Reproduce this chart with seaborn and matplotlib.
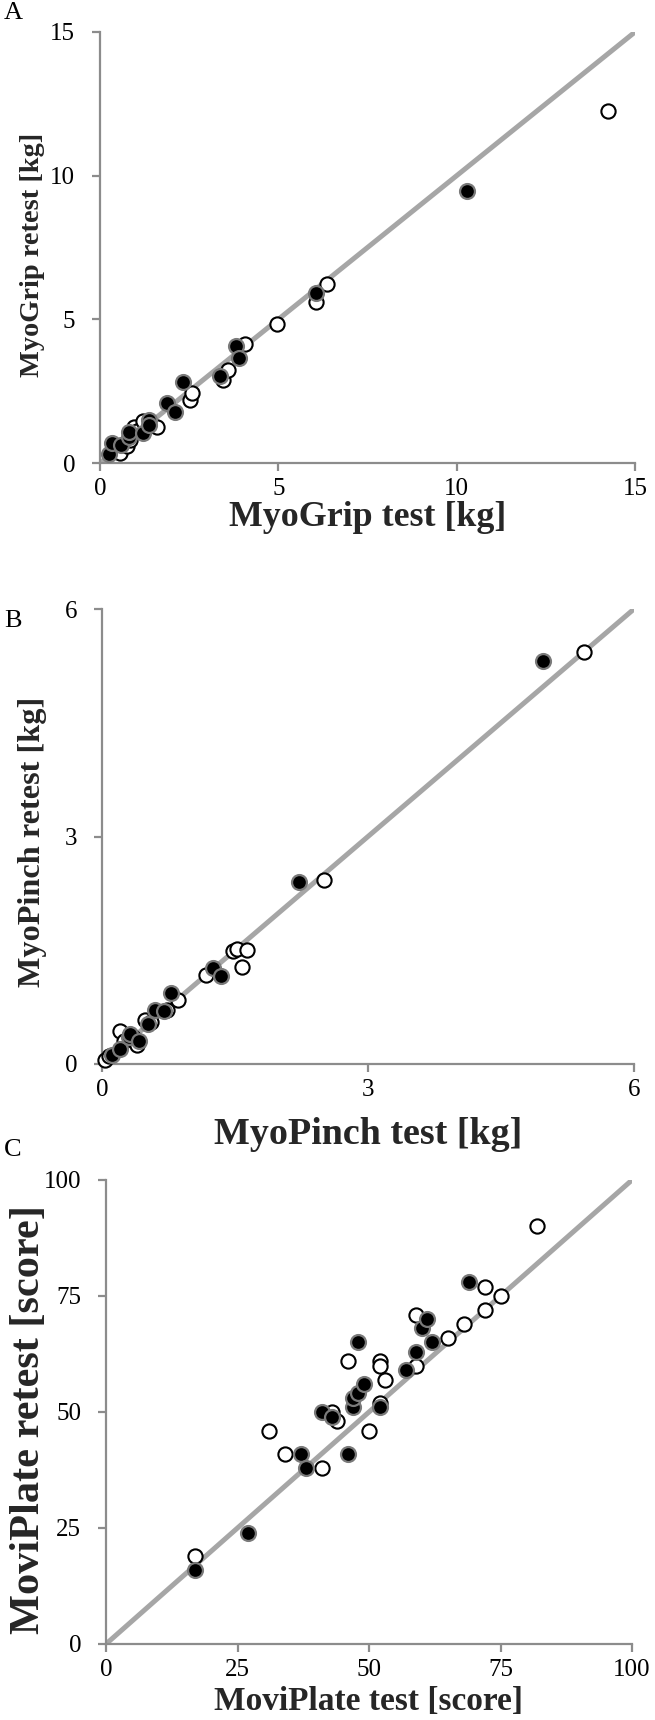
import matplotlib
matplotlib.use("Agg")
import matplotlib.pyplot as plt
import seaborn as sns
import numpy as np

# ---------------- data ----------------
# Panel A: MyoGrip (kg)
grip_filled_test = [0.26, 0.33, 0.60, 0.80, 0.82, 1.20, 1.36, 1.38, 1.89, 2.10, 2.34, 3.36, 3.80, 3.90, 6.06, 10.30]
grip_filled_retest = [0.31, 0.71, 0.63, 0.92, 1.09, 1.03, 1.50, 1.32, 2.08, 1.79, 2.83, 3.03, 4.07, 3.64, 5.91, 9.47]
grip_open_test = [0.56, 0.75, 0.84, 0.94, 1.05, 1.20, 1.59, 2.52, 2.57, 3.44, 3.60, 4.07, 4.95, 6.07, 6.36, 14.24]
grip_open_retest = [0.34, 0.58, 0.80, 1.26, 1.10, 1.45, 1.26, 2.19, 2.43, 2.89, 3.24, 4.13, 4.83, 5.61, 6.23, 12.25]

# Panel B: MyoPinch (kg)
pinch_filled_test = [0.11, 0.20, 0.30, 0.32, 0.42, 0.52, 0.60, 0.70, 0.78, 1.25, 1.34, 2.22, 4.97]
pinch_filled_retest = [0.12, 0.20, 0.35, 0.40, 0.30, 0.53, 0.71, 0.70, 0.93, 1.26, 1.16, 2.40, 5.31]
pinch_open_test = [0.03, 0.08, 0.20, 0.25, 0.35, 0.40, 0.49, 0.55, 0.73, 0.86, 1.17, 1.48, 1.52, 1.64, 1.58, 2.50, 5.44]
pinch_open_retest = [0.05, 0.10, 0.44, 0.30, 0.35, 0.25, 0.58, 0.55, 0.71, 0.84, 1.18, 1.49, 1.51, 1.50, 1.28, 2.42, 5.43]

# Panel C: MoviPlate (score)
plate_filled_test = [17, 27, 37, 38, 41, 43, 46, 47, 47, 48, 48, 49, 52, 57, 59, 60, 61, 62, 69]
plate_filled_retest = [16, 24, 41, 38, 50, 49, 41, 51, 53, 65, 54, 56, 51, 59, 63, 68, 70, 65, 78]
plate_open_test = [17, 31, 34, 41, 43, 44, 46, 50, 52, 52, 53, 52, 59, 59, 65, 68, 72, 72, 75, 82]
plate_open_retest = [19, 46, 41, 38, 50, 48, 61, 46, 61, 60, 57, 52, 71, 60, 66, 69, 77, 72, 75, 90]

panel_letters = ["A", "B", "C"]
x_labels = ["MyoGrip test [kg]", "MyoPinch test [kg]", "MoviPlate test [score]"]
y_labels = ["MyoGrip retest [kg]", "MyoPinch retest [kg]", "MoviPlate retest [score]"]
ticks_A = [0, 5, 10, 15]
ticks_B = [0, 3, 6]
ticks_C = [0, 25, 50, 75, 100]

# ---------------- style ----------------
sns.set_theme(style="white")
plt.rcParams["font.family"] = ["Liberation Serif", "DejaVu Serif"]

W, H = 655, 1720
DPI = 100
fig = plt.figure(figsize=(W / DPI, H / DPI), dpi=DPI)

AX_GRAY = "#8c8c8c"
LINE_GRAY = "#a6a6a6"

def px_axes(left, top, right, bottom):
    return fig.add_axes([left / W, 1 - bottom / H, (right - left) / W, (bottom - top) / H])

panels = [
    dict(box=(100, 32, 635, 463), ticks=ticks_A,
         fx=grip_filled_test, fy=grip_filled_retest, ox=grip_open_test, oy=grip_open_retest,
         xl=x_labels[0], yl=y_labels[0], xl_y=518, yl_y=255, xl_w=278, yl_h=245,
         yl_x=33, letter_y=13),
    dict(box=(102, 609, 634, 1064), ticks=ticks_B,
         fx=pinch_filled_test, fy=pinch_filled_retest, ox=pinch_open_test, oy=pinch_open_retest,
         xl=x_labels[1], yl=y_labels[1], xl_y=1134, yl_y=842, xl_w=309, yl_h=290,
         yl_x=33, letter_y=621),
    dict(box=(106, 1180, 632, 1644), ticks=ticks_C,
         fx=plate_filled_test, fy=plate_filled_retest, ox=plate_open_test, oy=plate_open_retest,
         xl=x_labels[2], yl=y_labels[2], xl_y=1701, yl_y=1420, xl_w=309, yl_h=430,
         yl_x=29, letter_y=1150),
]

renderer = fig.canvas.get_renderer()

def fit_text(t, target, vertical=False):
    bb = t.get_window_extent(renderer)
    cur = bb.height if vertical else bb.width
    t.set_fontsize(t.get_fontsize() * target / cur)

for i, p in enumerate(panels):
    l, t, r, b = p["box"]
    ax = px_axes(l, t, r, b)
    lim = p["ticks"][-1]
    # identity line
    ax.plot([0, lim], [0, lim], color=LINE_GRAY, lw=3.6, solid_capstyle="butt", zorder=1)
    sns.scatterplot(x=p["ox"], y=p["oy"], ax=ax, color="white", edgecolor="black",
                    s=105, linewidth=1.5, zorder=3, clip_on=False)
    sns.scatterplot(x=p["fx"], y=p["fy"], ax=ax, color="black", edgecolor="#7a7a7a",
                    s=115, linewidth=1.6, zorder=4, clip_on=False)
    ax.set_xlim(0, lim)
    ax.set_ylim(0, lim)
    ax.set_xticks(p["ticks"])
    ax.set_yticks(p["ticks"])
    ax.set_xticklabels([str(v) for v in p["ticks"]])
    ax.set_yticklabels([str(v) for v in p["ticks"]])
    for s in ["top", "right"]:
        ax.spines[s].set_visible(False)
    for s in ["left", "bottom"]:
        ax.spines[s].set_color(AX_GRAY)
        ax.spines[s].set_linewidth(1.6)
    ax.tick_params(axis="both", direction="out", length=6, width=1.6, color=AX_GRAY,
                   labelsize=18, labelcolor="black", bottom=True, left=True)
    ax.tick_params(axis="x", pad=5)
    ax.tick_params(axis="y", pad=12)
    ax.set_facecolor("white")

    xlab = ax.set_xlabel(p["xl"], fontweight="bold", fontsize=24)
    ylab = ax.set_ylabel(p["yl"], fontweight="bold", fontsize=24)
    fit_text(xlab, p["xl_w"])
    fit_text(ylab, p["yl_h"], vertical=True)
    # label positions in axes coords
    xl_axes_y = (b - p["xl_y"]) / (b - t)
    ax.xaxis.set_label_coords(((l + r) / 2 - l) / (r - l), xl_axes_y)
    xlab.set_va("center")
    yl_axes_x = (p["yl_x"] - l) / (r - l)
    ax.yaxis.set_label_coords(yl_axes_x, (b - p["yl_y"]) / (b - t))
    ylab.set_va("center")

    fig.text(13 / W, 1 - p["letter_y"] / H, panel_letters[i], fontsize=19,
             ha="center", va="center", color="black")

fig.savefig("out.png", dpi=DPI, facecolor="white")
